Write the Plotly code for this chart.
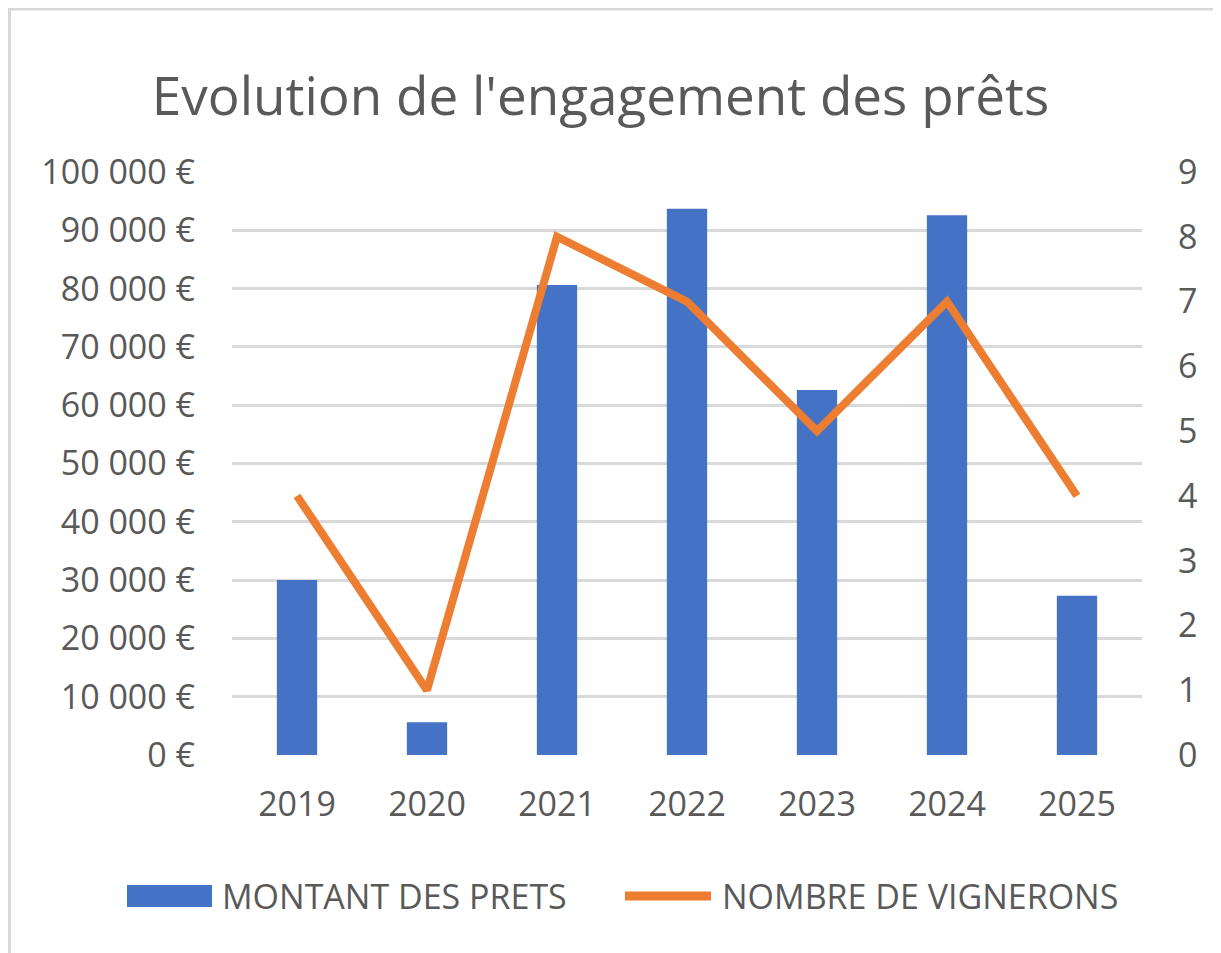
import plotly.graph_objects as go

years = ["2019", "2020", "2021", "2022", "2023", "2024", "2025"]
montant = [30000, 5600, 80600, 93700, 62600, 92600, 27300]
vignerons = [4, 1, 8, 7, 5, 7, 4]
left_ticks = [0, 10000, 20000, 30000, 40000, 50000, 60000, 70000, 80000, 90000, 100000]
left_labels = ["0 €", "10 000 €", "20 000 €", "30 000 €", "40 000 €", "50 000 €",
               "60 000 €", "70 000 €", "80 000 €", "90 000 €", "100 000 €"]
right_ticks = list(range(0, 10))
series_names = ["MONTANT DES PRETS", "NOMBRE DE VIGNERONS"]
BAR_COLOR = "#4472C4"
LINE_COLOR = "#ED7D31"

W, H = 1221, 953
L, R, T, B = 224, 87, 164, 206
FONT = "Open Sans"
TXT = "#595959"

fig = go.Figure()
fig.add_trace(go.Bar(x=years, y=montant, name=series_names[0],
                     marker=dict(color=BAR_COLOR, line=dict(width=0)),
                     width=0.31, yaxis="y", showlegend=False))
fig.add_trace(go.Scatter(x=years, y=vignerons, name=series_names[1],
                         mode="lines", line=dict(color=LINE_COLOR, width=8),
                         yaxis="y2", showlegend=False))

pw, ph = W - L - R, H - T - B
def px(x):
    return (x - L) / pw
def py(y):
    return 1 - (y - T) / ph

LEG_Y = 888
shapes = [
    dict(type="line", xref="paper", yref="paper", x0=px(1), x1=px(W + 10),
         y0=py(0.5), y1=py(0.5), line=dict(color="#D9D9D9", width=4)),
    dict(type="line", xref="paper", yref="paper", x0=px(1), x1=px(1),
         y0=py(-2), y1=py(H + 10), line=dict(color="#D9D9D9", width=4)),
    # legend keys
    dict(type="rect", xref="paper", yref="paper", x0=px(119), x1=px(204),
         y0=py(LEG_Y - 11), y1=py(LEG_Y + 11), fillcolor=BAR_COLOR, line=dict(width=0)),
    dict(type="line", xref="paper", yref="paper", x0=px(617), x1=px(703),
         y0=py(LEG_Y), y1=py(LEG_Y), line=dict(color=LINE_COLOR, width=9)),
]
annotations = [
    dict(text=series_names[0], xref="paper", yref="paper", x=px(212), y=py(LEG_Y),
         xanchor="left", yanchor="middle", showarrow=False,
         font=dict(size=34, color=TXT, family=FONT)),
    dict(text=series_names[1], xref="paper", yref="paper", x=px(712), y=py(LEG_Y),
         xanchor="left", yanchor="middle", showarrow=False,
         font=dict(size=34, color=TXT, family=FONT)),
]

fig.update_layout(
    width=W, height=H,
    margin=dict(l=L, r=R, t=T, b=B),
    paper_bgcolor="white", plot_bgcolor="white",
    font=dict(family=FONT, color=TXT),
    showlegend=False,
    title=dict(text="Evolution de l'engagement des prêts", x=592.5 / W, xanchor="center",
               y=1 - 88 / H, yanchor="middle", font=dict(size=53, color=TXT, family=FONT)),
    xaxis=dict(showgrid=False, showline=False, ticks="", tickfont=dict(size=34, color=TXT),
               ticklabelstandoff=26),
    yaxis=dict(range=[0, 100000], tickvals=left_ticks, ticktext=left_labels,
               showgrid=True, gridcolor="#D9D9D9", gridwidth=2.5, zeroline=False,
               showline=False, ticks="", tickfont=dict(size=34, color=TXT),
               ticklabelstandoff=36),
    yaxis2=dict(range=[0, 9], tickvals=right_ticks, overlaying="y", side="right",
                showgrid=False, zeroline=False, showline=False, ticks="",
                tickfont=dict(size=34, color=TXT), ticklabelstandoff=35),
    bargap=0.69,
    shapes=shapes,
    annotations=annotations,
)

fig.write_html("out.html")
